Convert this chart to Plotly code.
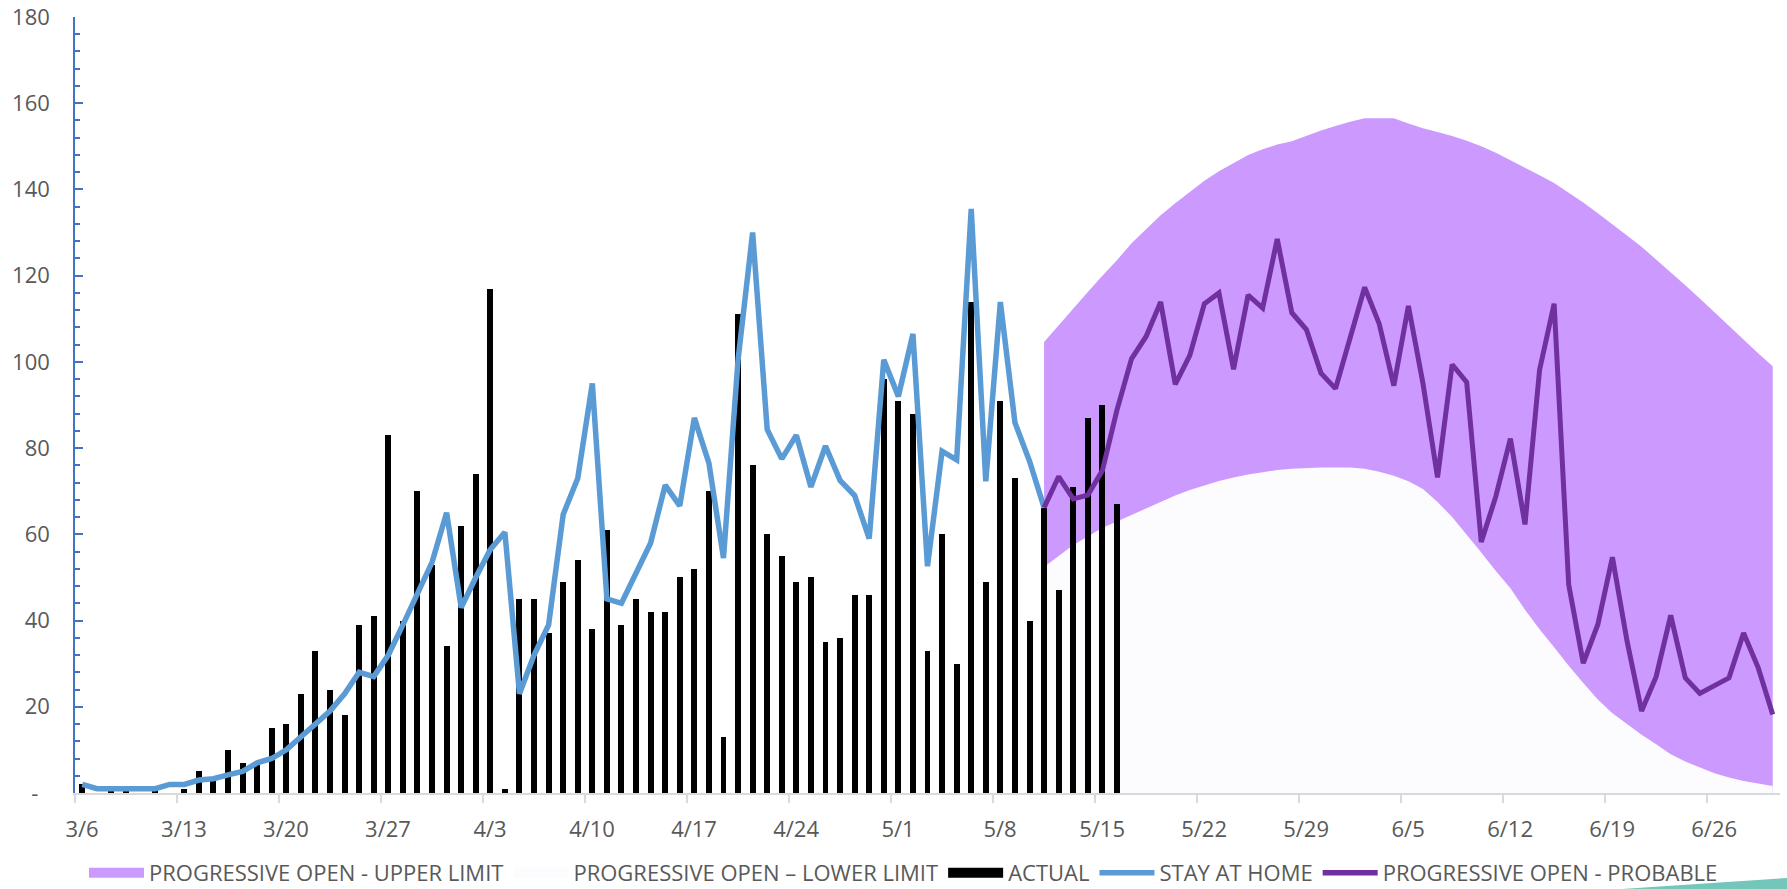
import pandas as pd
import plotly.graph_objects as go

# ---------------- data ----------------
start_actual = "2020-03-06"
start_projection = "2020-05-11"

actual = [2, 0, 1, 1, 0, 1, 0, 1, 5, 3,
          10, 7, 7, 15, 16, 23, 33, 24, 18, 39,
          41, 83, 40, 70, 53, 34, 62, 74, 117, 1,
          45, 45, 37, 49, 54, 38, 61, 39, 45, 42,
          42, 50, 52, 70, 13, 111, 76, 60, 55, 49,
          50, 35, 36, 46, 46, 96, 91, 88, 33, 60,
          30, 114, 49, 91, 73, 40, 66, 47, 71, 87,
          90, 67]

stay_at_home = [2, 1, 1, 1, 1, 1, 2, 2, 3, 3.3,
                4.2, 5, 7, 8, 10, 13, 16, 19, 23, 28,
                27, 32, 39, 46, 53.5, 65, 43, 50, 56.5, 60.5,
                23, 32, 39, 64.6, 73, 95, 45, 44, 51, 58,
                71.4, 66.6, 87, 76.5, 54.5, 100.5, 130, 84.3, 77.5, 83,
                71, 80.5, 72.5, 69, 59, 100.5, 92, 106.5, 52.6, 79.3,
                77.3, 135.5, 72.3, 113.9, 85.9, 77, 66.2]

probable = [66.2, 73.4, 68.2, 69.1, 74.8, 88.8, 100.7, 105.9, 113.9, 94.8,
            101.5, 113.5, 116.0, 98.3, 115.5, 112.5, 128.5, 111.4, 107.5, 97.4,
            93.8, 105.4, 117.3, 108.8, 94.5, 113.0, 95.0, 73.2, 99.4, 95.3,
            58.2, 68.8, 82.2, 62.3, 98.1, 113.5, 48.3, 30.1, 39.1, 54.7,
            35.3, 19.0, 27.0, 41.2, 26.7, 23.1, 24.9, 26.7, 37.1, 29.1,
            18.2]

upper_limit = [104.6, 108.5, 112.5, 116.2, 120, 123.6, 127.5, 130.8, 134, 136.8,
               139.5, 142, 144.2, 146.2, 148, 149.3, 150.4, 151.2, 152.5, 153.7,
               154.7, 155.7, 156.5, 156.5, 156.5, 155.3, 154.2, 153.3, 152.4, 151.3,
               150, 148.5, 146.8, 145, 143.3, 141.5, 139.3, 137, 134.5, 132,
               129.3, 126.7, 123.8, 120.7, 117.8, 114.7, 111.5, 108.2, 105, 102,
               99]

lower_limit = [52.4, 55, 57.5, 59.5, 61.5, 63, 64.5, 66, 67.5, 69,
               70.3, 71.4, 72.4, 73.2, 73.9, 74.4, 74.9, 75.2, 75.4, 75.5,
               75.5, 75.5, 75.2, 74.5, 73.6, 72.3, 70.5, 67.5, 64, 60,
               55.8, 51.5, 47.5, 42.5, 38, 33.8, 29.5, 25.5, 21.7, 18.5,
               16, 13.5, 11.3, 9, 7.3, 5.9, 4.6, 3.6, 2.8, 2.2,
               1.6]

x_tick_labels = ["3/6", "3/13", "3/20", "3/27", "4/3", "4/10", "4/17", "4/24",
                 "5/1", "5/8", "5/15", "5/22", "5/29", "6/5", "6/12", "6/19", "6/26"]
y_tick_values = [0, 20, 40, 60, 80, 100, 120, 140, 160, 180]
y_tick_labels = ["-\u00a0\u00a0", "20", "40", "60", "80", "100", "120", "140", "160", "180"]

series_names = ["PROGRESSIVE OPEN - UPPER LIMIT", "PROGRESSIVE OPEN \u2013 LOWER LIMIT",
                "ACTUAL", "STAY AT HOME", "PROGRESSIVE OPEN - PROBABLE"]

# ---------------- styling ----------------
FONT = "Open Sans"
TEXT = "#595959"
FILL_UPPER = "#CC99FF"
FILL_LOWER = "#FCFCFE"
BLUE = "#5B9BD5"
PURPLE = "#7030A0"
AXIS_BLUE = "#4472C4"
AXIS_GRAY = "#D9D9D9"

half_day = pd.Timedelta(hours=12)
x_actual = pd.date_range(start_actual, periods=len(actual), freq="D") + half_day
x_home = pd.date_range(start_actual, periods=len(stay_at_home), freq="D") + half_day
x_proj = pd.date_range(start_projection, periods=len(probable), freq="D") + half_day
tick_dates = pd.date_range(start_actual, periods=len(x_tick_labels), freq="7D")

BAR_WIDTH_MS = 0.41 * 86400000

fig = go.Figure()

# area fills on the base axes
fig.add_trace(go.Scatter(x=x_proj, y=upper_limit, mode="lines", line=dict(width=0, color=FILL_UPPER),
                         fill="tozeroy", fillcolor=FILL_UPPER, showlegend=False, hoverinfo="skip"))
fig.add_trace(go.Scatter(x=x_proj, y=lower_limit, mode="lines", line=dict(width=0, color=FILL_LOWER),
                         fill="tozeroy", fillcolor=FILL_LOWER, showlegend=False, hoverinfo="skip"))

# bars and lines on an overlaid axis so they sit above the fills
fig.add_trace(go.Bar(x=x_actual, y=actual, width=BAR_WIDTH_MS, marker=dict(color="black", line=dict(width=0)),
                     yaxis="y2", showlegend=False))
fig.add_trace(go.Scatter(x=x_home, y=stay_at_home, mode="lines", line=dict(color=BLUE, width=5.5),
                         yaxis="y2", showlegend=False))
fig.add_trace(go.Scatter(x=x_proj, y=probable, mode="lines", line=dict(color=PURPLE, width=5),
                         yaxis="y2", showlegend=False))

# legend entries
legend_styles = [(FILL_UPPER, 14), (FILL_LOWER, 14), ("black", 14), (BLUE, 5.5), (PURPLE, 5.5)]
for name, (col, w) in zip(series_names, legend_styles):
    fig.add_trace(go.Scatter(x=[None], y=[None], mode="lines", name=name,
                             line=dict(color=col, width=w), showlegend=True))

# page geometry (body margin removed via post_script)
W, H = 1787, 889
L, R, T, B = 75, 7, 17, 96
pw, ph = W - L - R, H - T - B

def px(v):
    return (v - L) / pw

def py(v):
    return (H - B - v) / ph

# decorative teal sliver at the bottom-right corner
fig.add_shape(type="path", xref="paper", yref="paper",
              path=f"M {px(1622)} {py(889)} L {px(1787)} {py(878)} L {px(1787)} {py(889)} Z",
              fillcolor="#72C6BA", line=dict(width=0), layer="above")

fig.update_layout(
    width=W, height=H,
    margin=dict(l=L, r=R, t=T, b=B),
    template="none",
    paper_bgcolor="white", plot_bgcolor="white",
    font=dict(family=FONT, size=22, color=TEXT),
    bargap=0,
    showlegend=True,
    legend=dict(orientation="h", xref="container", yref="container",
                x=0.5056, xanchor="center", y=0.018, yanchor="middle",
                font=dict(family=FONT, size=22, color=TEXT),
                itemwidth=55, bgcolor="rgba(0,0,0,0)", traceorder="normal"),
    xaxis=dict(type="date", range=["2020-03-06", "2020-07-01"],
               showgrid=False, zeroline=False,
               showline=True, linecolor=AXIS_GRAY, linewidth=1.5,
               ticks="outside", ticklen=8, tickwidth=1.5, tickcolor=AXIS_GRAY,
               tickmode="array", tickvals=tick_dates, ticktext=x_tick_labels,
               ticklabelshift=7, ticklabelstandoff=8,
               tickfont=dict(family=FONT, size=22, color=TEXT)),
    yaxis=dict(range=[0, 180], showgrid=False, zeroline=False,
               showline=True, linecolor=AXIS_BLUE, linewidth=1.5,
               ticks="inside", ticklen=8, tickwidth=1.5, tickcolor=AXIS_BLUE,
               tickmode="array", tickvals=y_tick_values, ticktext=y_tick_labels,
               ticklabeloverflow="allow",
               minor=dict(tick0=0, dtick=4, ticks="inside", ticklen=5.5, tickwidth=1.5,
                          tickcolor=AXIS_BLUE, showgrid=False),
               ticklabelstandoff=19,
               tickfont=dict(family=FONT, size=22, color=TEXT)),
    yaxis2=dict(range=[0, 180], overlaying="y", visible=False),
)

fig.write_html("out.html", config={"displayModeBar": False},
               post_script="document.body.style.margin='0';")
